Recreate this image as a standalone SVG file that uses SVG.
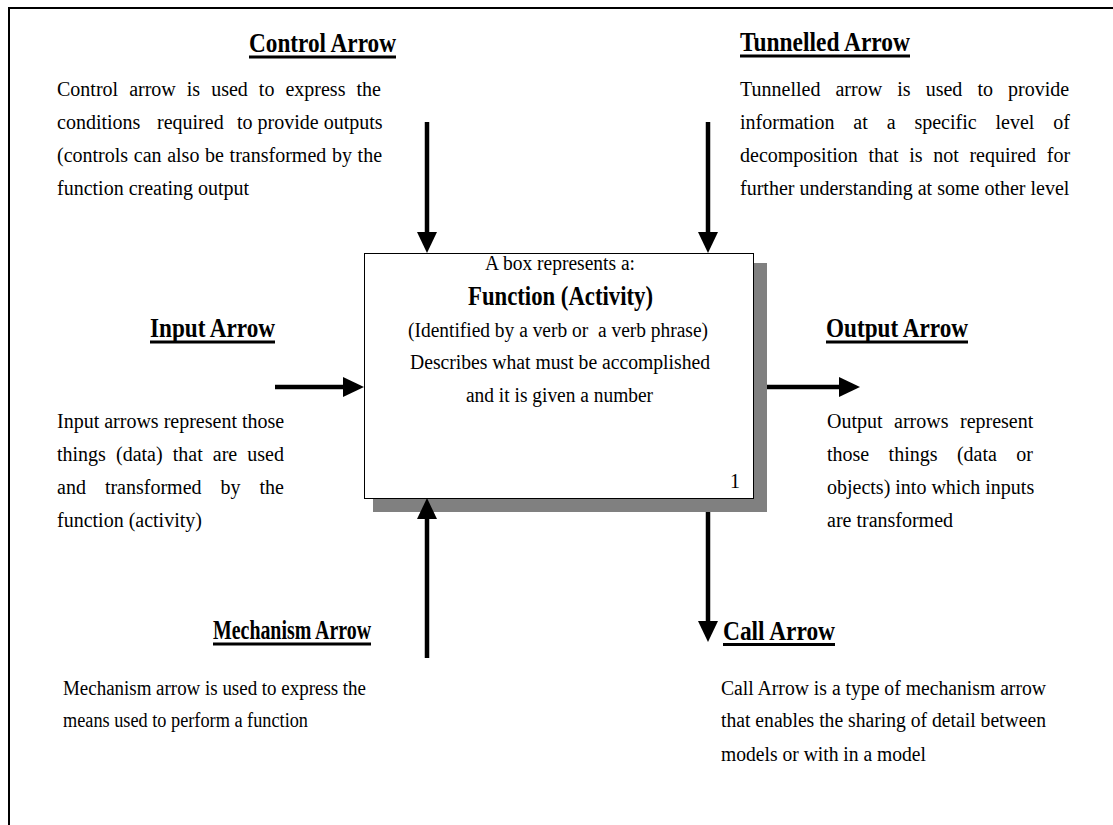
<svg xmlns="http://www.w3.org/2000/svg" width="1113" height="825" viewBox="0 0 1113 825">
  <style>
    .body { font-family: "Liberation Serif", "Times New Roman", serif; font-size: 20px; fill: #000; }
    .title { font-family: "Liberation Serif", "Times New Roman", serif; font-size: 28px; font-weight: bold; fill: #000; }
    .uline { fill: #000; }
    .shaft { stroke: #000; stroke-width: 4.5; fill: none; marker-end: url(#head); }
  </style>
  <defs>
    <marker id="head" markerUnits="userSpaceOnUse" markerWidth="22" markerHeight="22" refX="0" refY="10" orient="auto">
      <path d="M0,0 L21,10 L0,20 Z" fill="#000"/>
    </marker>
  </defs>

  <rect width="1113" height="825" fill="#fff"/>
  <!-- outer frame (runs off the right and bottom edges) -->
  <rect x="9" y="8" width="1120" height="840" fill="none" stroke="#000" stroke-width="2"/>

  <!-- central activity box with drop shadow -->
  <g id="function-box">
    <rect x="373" y="263" width="394" height="249" fill="#808080"/>
    <rect x="364.5" y="253.5" width="389" height="245" fill="#fff" stroke="#000" stroke-width="1"/>
    <text class="body" x="485" y="270" textLength="150" lengthAdjust="spacingAndGlyphs">A box represents a:</text>
    <text class="title" x="468" y="305" textLength="185" lengthAdjust="spacingAndGlyphs">Function (Activity)</text>
    <text class="body" x="408" y="337" textLength="300" lengthAdjust="spacingAndGlyphs" xml:space="preserve">(Identified by a verb or  a verb phrase)</text>
    <text class="body" x="410" y="369" textLength="300" lengthAdjust="spacingAndGlyphs">Describes what must be accomplished</text>
    <text class="body" x="466" y="402" textLength="187" lengthAdjust="spacingAndGlyphs">and it is given a number</text>
    <text class="body" x="730" y="488">1</text>
  </g>

  <g id="control-note">
    <text class="title" x="249" y="52" textLength="147" lengthAdjust="spacingAndGlyphs">Control Arrow</text>
    <rect class="uline" x="249" y="55.5" width="147" height="3"/>
    <text class="body" x="57" y="96" word-spacing="6.03">Control arrow is used to express the</text>
    <text class="body" y="129"><tspan x="57">conditions</tspan><tspan x="157">required</tspan><tspan x="237">to provide outputs</tspan></text>
    <text class="body" x="57" y="162" word-spacing="0.67">(controls can also be transformed by the</text>
    <text class="body" x="57" y="195">function creating output</text>
  </g>

  <g id="tunnelled-note">
    <text class="title" x="740" y="51" textLength="170" lengthAdjust="spacingAndGlyphs">Tunnelled Arrow</text>
    <rect class="uline" x="740" y="54.5" width="170" height="3"/>
    <text class="body" x="740" y="96" word-spacing="10.1">Tunnelled arrow is used to provide</text>
    <text class="body" x="740" y="129" word-spacing="13.9">information at a specific level of</text>
    <text class="body" x="740" y="162" word-spacing="5.7">decomposition that is not required for</text>
    <text class="body" x="740" y="195">further understanding at some other level</text>
  </g>

  <g id="input-note">
    <text class="title" x="150" y="337" textLength="125" lengthAdjust="spacingAndGlyphs">Input Arrow</text>
    <rect class="uline" x="150" y="340.5" width="125" height="3"/>
    <text class="body" x="57" y="428">Input arrows represent those</text>
    <text class="body" x="57" y="461" word-spacing="5.1">things (data) that are used</text>
    <text class="body" x="57" y="494" word-spacing="14">and transformed by the</text>
    <text class="body" x="57" y="527">function (activity)</text>
  </g>

  <g id="output-note">
    <text class="title" x="826" y="337" textLength="142" lengthAdjust="spacingAndGlyphs">Output Arrow</text>
    <rect class="uline" x="826" y="340.5" width="142" height="3"/>
    <text class="body" x="827" y="428" word-spacing="6.5">Output arrows represent</text>
    <text class="body" x="827" y="461" word-spacing="14.4">those things (data or</text>
    <text class="body" x="827" y="494">objects) into which inputs</text>
    <text class="body" x="827" y="527">are transformed</text>
  </g>

  <g id="mechanism-note">
    <text class="title" x="213" y="639" textLength="158" lengthAdjust="spacingAndGlyphs">Mechanism Arrow</text>
    <rect class="uline" x="213" y="642.5" width="158" height="3"/>
    <text class="body" x="63" y="695" textLength="303" lengthAdjust="spacingAndGlyphs">Mechanism arrow is used to express the</text>
    <text class="body" x="63" y="727" textLength="245" lengthAdjust="spacingAndGlyphs">means used to perform a function</text>
  </g>

  <g id="call-note">
    <text class="title" x="723" y="640" textLength="112" lengthAdjust="spacingAndGlyphs">Call Arrow</text>
    <rect class="uline" x="723" y="643" width="112" height="3"/>
    <text class="body" x="721" y="695" textLength="325" lengthAdjust="spacingAndGlyphs">Call Arrow is a type of mechanism arrow</text>
    <text class="body" x="721" y="727" textLength="325" lengthAdjust="spacingAndGlyphs">that enables the sharing of detail between</text>
    <text class="body" x="721" y="761" textLength="205" lengthAdjust="spacingAndGlyphs">models or with in a model</text>
  </g>

  <!-- arrows into and out of the box -->
  <g id="connectors">
    <line class="shaft" x1="427" y1="122" x2="427" y2="232"/>
    <line class="shaft" x1="708" y1="122" x2="708" y2="232"/>
    <line class="shaft" x1="275" y1="387" x2="343" y2="387"/>
    <line class="shaft" x1="767" y1="387" x2="839" y2="387"/>
    <line class="shaft" x1="427" y1="658" x2="427" y2="519"/>
    <line class="shaft" x1="708" y1="512" x2="708" y2="621"/>
  </g>
</svg>
